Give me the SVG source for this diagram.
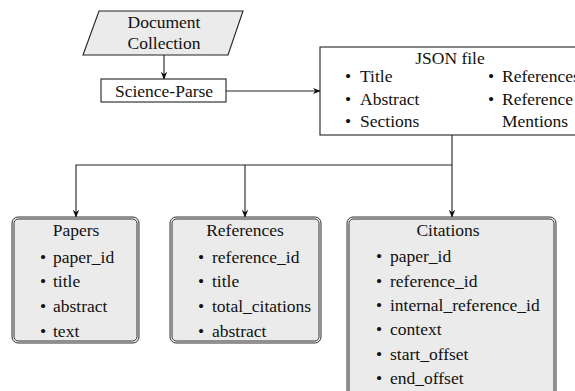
<svg xmlns="http://www.w3.org/2000/svg" width="575" height="391" viewBox="0 0 575 391">
<style>
.ln{fill:none;stroke:#222;stroke-width:1.1}
.box{fill:#fff;stroke:#222;stroke-width:1.1}
.db{fill:#ebebeb;stroke:#333;stroke-width:1}
.db2{fill:none;stroke:#333;stroke-width:1}
.c{text-anchor:middle}
</style>
<defs>
<marker id="ah" viewBox="0 0 10 10" refX="9" refY="5" markerWidth="8" markerHeight="8" orient="auto" markerUnits="userSpaceOnUse">
<path d="M0,1 L10,5 L0,9 L3,5 Z" fill="#111"/>
</marker>
</defs>
<rect width="575" height="391" fill="#fff"/>
<g id="connectors">
<line class="ln" x1="164" y1="55" x2="164" y2="79" marker-end="url(#ah)"/>
<line class="ln" x1="226" y1="91" x2="320" y2="91" marker-end="url(#ah)"/>
<line class="ln" x1="452" y1="135" x2="452" y2="217" marker-end="url(#ah)"/>
<polyline class="ln" points="452,165 76,165 76,217" marker-end="url(#ah)"/>
<line class="ln" x1="245" y1="165" x2="245" y2="217" marker-end="url(#ah)"/>
</g>
<g font-family="Liberation Serif, Times New Roman, serif" font-size="17.5" fill="#111">
<g id="document-collection">
<polygon points="99,11 243,11 228,55 83,55" fill="#ebebeb" stroke="#222" stroke-width="1.1"/>
<text class="c" x="164" y="28">Document</text>
<text class="c" x="164" y="49">Collection</text>
</g>
<g id="science-parse">
<rect class="box" x="101" y="79" width="125" height="23"/>
<text class="c" x="164" y="97">Science-Parse</text>
</g>
<g id="json-file">
<rect class="box" x="320" y="47" width="280" height="88"/>
<text class="c" x="450" y="64">JSON file</text>
<text x="345" y="82">•</text><text x="360" y="82">Title</text>
<text x="345" y="105">•</text><text x="360" y="105">Abstract</text>
<text x="345" y="127">•</text><text x="360" y="127">Sections</text>
<text x="488" y="82">•</text><text x="502" y="82">References</text>
<text x="488" y="105">•</text><text x="502" y="105">Reference</text>
<text x="502" y="127">Mentions</text>
</g>
<g id="papers">
<rect class="db" x="12" y="217" width="127" height="126" rx="6"/>
<rect class="db2" x="14" y="219" width="123" height="122" rx="4.5"/>
<text class="c" x="76" y="236">Papers</text>
<text x="40" y="263">•</text><text x="53" y="263">paper_id</text>
<text x="40" y="287">•</text><text x="53" y="287">title</text>
<text x="40" y="312">•</text><text x="53" y="312">abstract</text>
<text x="40" y="337">•</text><text x="53" y="337">text</text>
</g>
<g id="references">
<rect class="db" x="170" y="217" width="151" height="126" rx="6"/>
<rect class="db2" x="172" y="219" width="147" height="122" rx="4.5"/>
<text class="c" x="245" y="236">References</text>
<text x="198" y="263">•</text><text x="212" y="263">reference_id</text>
<text x="198" y="287">•</text><text x="212" y="287">title</text>
<text x="198" y="312">•</text><text x="212" y="312">total_citations</text>
<text x="198" y="337">•</text><text x="212" y="337">abstract</text>
</g>
<g id="citations">
<rect class="db" x="347" y="217" width="209" height="190" rx="6"/>
<rect class="db2" x="349" y="219" width="205" height="186" rx="4.5"/>
<text class="c" x="448" y="236">Citations</text>
<text x="376" y="262">•</text><text x="390" y="262">paper_id</text>
<text x="376" y="287">•</text><text x="390" y="287">reference_id</text>
<text x="376" y="311">•</text><text x="390" y="311">internal_reference_id</text>
<text x="376" y="335">•</text><text x="390" y="335">context</text>
<text x="376" y="360">•</text><text x="390" y="360">start_offset</text>
<text x="376" y="384">•</text><text x="390" y="384">end_offset</text>
</g>
</g>
</svg>
